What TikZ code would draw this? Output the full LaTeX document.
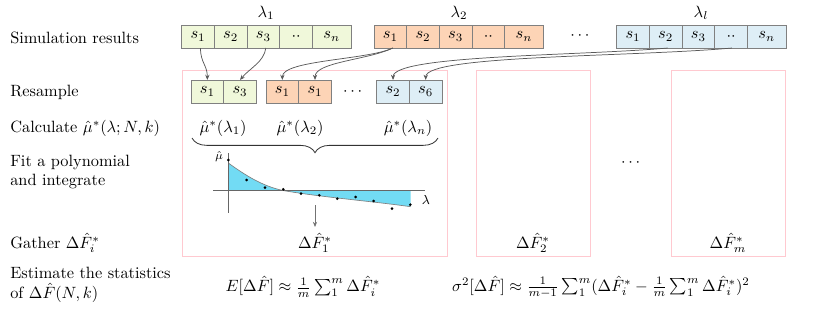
\documentclass[tikz,border=0pt]{standalone}
\usetikzlibrary{arrows.meta,decorations.pathreplacing,calc}
\definecolor{cgreen}{HTML}{F0F8DA}
\definecolor{corange}{HTML}{FDD4B6}
\definecolor{cblue}{HTML}{DEEEF6}
\definecolor{cfill}{HTML}{72DBF4}
\definecolor{cpink}{HTML}{FFC9D0}
\definecolor{cedge}{HTML}{808080}
\begin{document}
\begin{tikzpicture}[x=0.612pt,y=-0.612pt,
  cell/.style={draw=cedge,line width=0.5pt,minimum width=20pt,minimum height=14.1pt,inner sep=0pt,outer sep=0pt,anchor=west},
  wcell/.style={cell,minimum width=23.6pt},
  lab/.style={anchor=west,align=left,inner sep=0pt},
  link/.style={draw=black!65,line width=0.45pt,-{Stealth[length=3.2pt,width=2.6pt]}},
  frame/.style={draw=cpink,line width=0.6pt},
  dot/.style={circle,fill=black,inner sep=0pt,minimum size=1.8pt}]
\useasboundingbox (0,0) rectangle (830,311);

% left labels
\node[lab] (t1) at (10,38) {Simulation results};
\node[lab] (t2) at (10,92) {Resample};
\node[lab] (t3) at (10,128) {Calculate $\hat\mu^*(\lambda;N,k)$};
\node[lab] (t4) at (10,172) {Fit a polynomial\\and integrate};
\node[lab] (t5) at (10,243) {Gather $\Delta\hat F_i^*$};
\node[lab] (t6) at (10,285) {Estimate the statistics\\of $\Delta\hat F(N,k)$};

% frames
\draw[frame] (182.3,70) rectangle (447.7,256.7);
\draw[frame] (476.7,70) rectangle (590,256.7);
\draw[frame] (671.7,70) rectangle (785,256.7);

% top row
\node (l1) at (266,13) {$\lambda_1$};
\node (l2) at (459,13) {$\lambda_2$};
\node (l3) at (701,13) {$\lambda_l$};
\node[cell,fill=cgreen] (g1) at (181.7,36.5) {$s_1$};
\node[cell,fill=cgreen] (g2) at (g1.east) {$s_2$};
\node[cell,fill=cgreen] (g3) at (g2.east) {$s_3$};
\node[cell,fill=cgreen] (g4) at (g3.east) {$\cdot\cdot$};
\node[wcell,fill=cgreen] (g5) at (g4.east) {$s_n$};
\node[cell,fill=corange] (o1) at (374,36.5) {$s_1$};
\node[cell,fill=corange] (o2) at (o1.east) {$s_2$};
\node[cell,fill=corange] (o3) at (o2.east) {$s_3$};
\node[cell,fill=corange] (o4) at (o3.east) {$\cdot\cdot$};
\node[wcell,fill=corange] (o5) at (o4.east) {$s_n$};
\node (dt1) at (580,36) {$\cdots$};
\node[cell,fill=cblue] (b1) at (616.7,36.5) {$s_1$};
\node[cell,fill=cblue] (b2) at (b1.east) {$s_2$};
\node[cell,fill=cblue] (b3) at (b2.east) {$s_3$};
\node[cell,fill=cblue] (b4) at (b3.east) {$\cdot\cdot$};
\node[wcell,fill=cblue] (b5) at (b4.east) {$s_n$};

% resample row
\node[cell,fill=cgreen] (rg1) at (191,91.5) {$s_1$};
\node[cell,fill=cgreen] (rg2) at (rg1.east) {$s_3$};
\node[cell,fill=corange] (ro1) at (266,91.5) {$s_1$};
\node[cell,fill=corange] (ro2) at (ro1.east) {$s_1$};
\node (dt2) at (352.7,92) {$\cdots$};
\node[cell,fill=cblue] (rb1) at (376.7,91.5) {$s_2$};
\node[cell,fill=cblue] (rb2) at (rb1.east) {$s_6$};

% resample links
\draw[link] ([xshift=1.5pt]g1.south) .. controls +(0,15) and +(0,-15) .. (rg1.north);
\draw[link] ([xshift=1.5pt]g3.south) .. controls +(-2,14) and +(10,-12) .. (rg2.north);
\draw[link] ([xshift=1.5pt]o1.south) .. controls +(-25,12) and +(0,-20) .. (ro1.north);
\draw[link] ([xshift=1.5pt]o1.south) .. controls +(-25,12) and +(0,-18) .. (ro2.north);
\draw[link] ([xshift=1.2pt]b2.south) .. controls +(-90,8) and +(0,-25) .. (rb1.north);
\draw[link] ([xshift=0.5pt]b4.south) .. controls +(-100,9) and +(0,-25) .. (rb2.north);

% mu labels and brace
\node (m1) at (223,128) {$\hat\mu^*(\lambda_1)$};
\node (m2) at (300,128) {$\hat\mu^*(\lambda_2)$};
\node (m3) at (408,128) {$\hat\mu^*(\lambda_n)$};
\draw[decorate,decoration={brace,amplitude=9pt,mirror},line width=0.5pt,black!80] (192,138) -- (438,138);

% plot
\fill[cfill] (228.3,190.7) -- (228.3,163) .. controls (245,175) and (262,186) .. (283,190.5)
  .. controls (320,197) and (370,201) .. (410.7,206.7) -- (410.7,190.7) -- cycle;
\draw[black!50,line width=0.4pt] (228.3,163) .. controls (245,175) and (262,186) .. (283,190.5)
  .. controls (320,197) and (370,201) .. (410.7,206.7);
\draw[black!60,line width=0.5pt] (213,190.7) -- (425,190.7);
\draw[black!60,line width=0.5pt] (228.3,153) -- (228.3,213);
\node[font=\scriptsize] (mu) at (219,157) {$\hat\mu$};
\node[font=\footnotesize] (lam) at (426,200) {$\lambda$};
\foreach \x/\y [count=\i] in {228.3/160,246.7/180,265/187.7,283.3/189.3,301/193.7,319.3/195.3,337.3/198.7,355.7/197,373.7/201,392/208.7,410.3/204.7}
  \node[dot] (p\i) at (\x,\y) {};
\coordinate (pa) at (315,205);
\coordinate (pb) at (315,227);
\draw[link,draw=black!55] (pa) -- (pb);

% gathered values
\node (d1) at (315,243) {$\Delta\hat F_1^*$};
\node (d2) at (533,243) {$\Delta\hat F_2^*$};
\node (dt3) at (630.7,162.7) {$\cdots$};
\node (d3) at (728,243) {$\Delta\hat F_m^*$};

% estimates
\node (e1) at (303,287) {$E[\Delta\hat F]\approx\frac{1}{m}\sum_1^m\Delta\hat F_i^*$};
\node (e2) at (601,287) {$\sigma^2[\Delta\hat F]\approx\frac{1}{m-1}\sum_1^m(\Delta\hat F_i^*-\frac{1}{m}\sum_1^m\Delta\hat F_i^*)^2$};
\end{tikzpicture}
\end{document}
